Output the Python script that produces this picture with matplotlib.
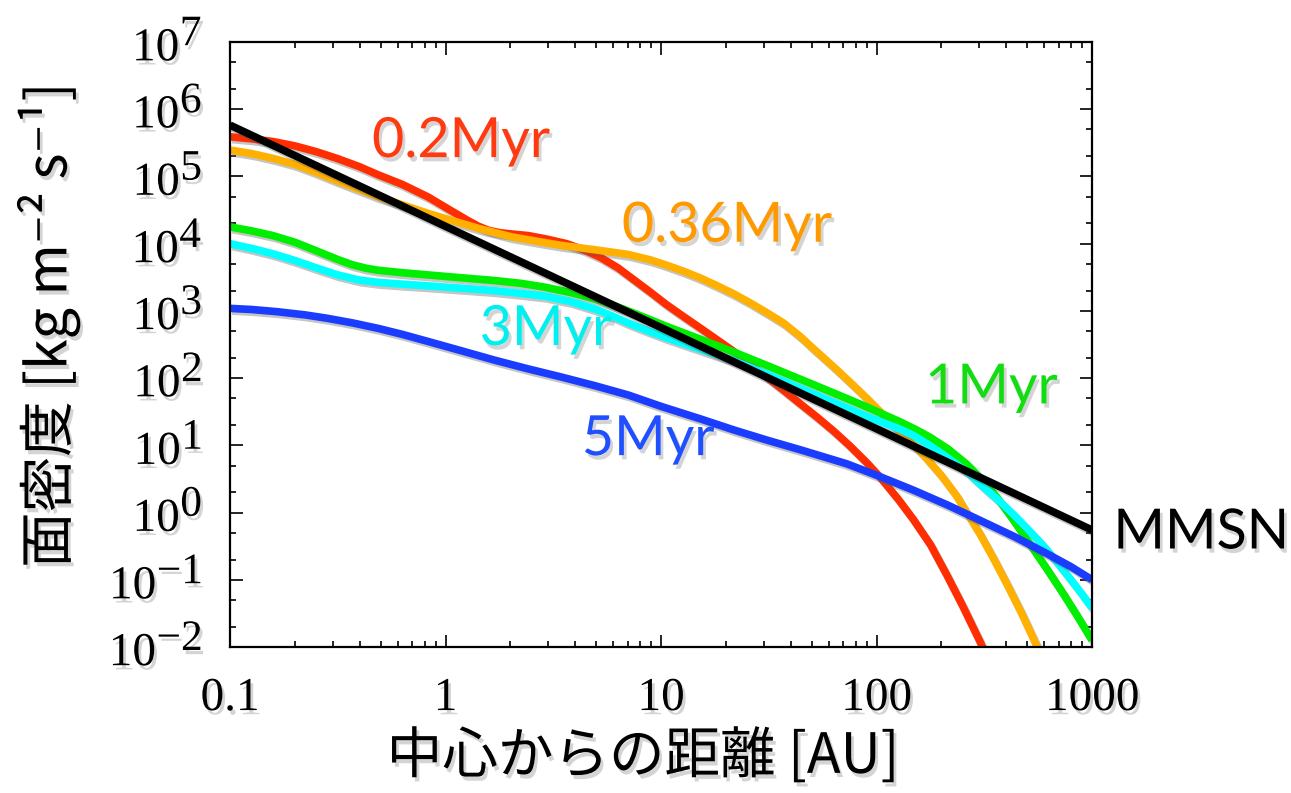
import matplotlib
matplotlib.use('Agg')
import matplotlib.pyplot as plt
import matplotlib.patheffects as pe
from matplotlib.ticker import LogLocator, FixedLocator, FixedFormatter, NullFormatter
try:
    import matplotlib._mathtext as _mt
    _mt.SHRINK_FACTOR = 0.92
except Exception:
    pass

# ---------------- data ----------------
red_x = [0.1, 0.126, 0.158, 0.2, 0.251, 0.316, 0.398, 0.486, 0.631, 0.83,
         1.05, 1.26, 1.42, 1.585, 1.78, 2.0, 2.42, 2.95, 3.65, 4.37,
         5.21, 6.31, 7.43, 8.91, 10.6, 12.6, 15.2, 18.2, 21.7, 25.9,
         30.9, 37.0, 44.2, 52.5, 63.1, 75.3, 90.2, 104, 126, 148,
         178, 212, 251, 302, 331]
red_y = [3.89e5, 3.63e5, 3.31e5, 2.85e5, 2.34e5, 1.84e5, 1.40e5, 1.06e5, 7.6e4, 4.95e4,
         3.16e4, 2.24e4, 1.82e4, 1.58e4, 1.46e4, 1.40e4, 1.32e4, 1.17e4, 1.0e4, 8.13e3,
         6.31e3, 4.37e3, 2.95e3, 1.91e3, 1.24e3, 841, 556, 372, 251, 162,
         104, 66.1, 41.7, 26.9, 16.4, 9.77, 5.50, 3.35, 1.58, 0.794,
         0.331, 0.117, 0.0407, 0.0120, 0.0063]

orange_x = [0.1, 0.126, 0.158, 0.2, 0.251, 0.316, 0.486, 0.83, 1.42, 2.01,
            2.82, 3.44, 4.92, 7.03, 8.91, 10.6, 12.6, 15.2, 18.2, 21.7,
            25.9, 30.9, 37.0, 44.2, 52.5, 63.1, 75.3, 90.2, 104, 128.5,
            165, 200, 235, 262, 302, 347, 402, 468, 553, 589]
orange_y = [2.47e5, 2.19e5, 1.86e5, 1.51e5, 1.15e5, 8.51e4, 4.99e4, 2.82e4, 1.69e4, 1.27e4,
            1.05e4, 9.44e3, 8.13e3, 6.92e3, 5.75e3, 4.79e3, 3.94e3, 3.09e3, 2.37e3, 1.80e3,
            1.32e3, 944, 661, 417, 251, 148, 87.1, 50.1, 31.6, 15.8,
            7.24, 3.55, 1.78, 1.0, 0.479, 0.214, 0.0871, 0.0331, 0.0105, 0.0068]

green_x = [0.1, 0.126, 0.158, 0.2, 0.251, 0.316, 0.366, 0.427, 0.486, 0.631,
           0.83, 1.2, 1.69, 2.24, 2.88, 3.8, 4.92, 5.89, 7.03, 8.91,
           10.6, 15.2, 21.7, 30.9, 44.2, 63.1, 90.2, 128.5, 151, 177,
           214, 262, 309, 361, 427, 515, 617, 736, 851, 1000]
green_y = [1.78e4, 1.55e4, 1.32e4, 1.05e4, 7.85e3, 5.82e3, 4.90e3, 4.32e3, 4.03e3, 3.70e3,
           3.43e3, 3.10e3, 2.83e3, 2.57e3, 2.26e3, 1.88e3, 1.51e3, 1.24e3, 1.0e3, 741,
           589, 380, 245, 155, 96.6, 60.3, 37.2, 22.4, 17.4, 13.2,
           8.91, 5.25, 3.09, 1.70, 0.813, 0.339, 0.145, 0.0617, 0.0295, 0.0126]

cyan_x = [0.1, 0.126, 0.158, 0.2, 0.251, 0.316, 0.398, 0.486, 0.631, 0.83,
          1.2, 1.69, 2.24, 2.88, 3.8, 4.92, 5.89, 7.03, 8.91, 10.6,
          15.2, 21.7, 30.9, 44.2, 63.1, 90.2, 128.5, 148, 178, 214,
          262, 316, 372, 432, 501, 589, 685, 794, 891, 1000]
cyan_y = [1.0e4, 8.51e3, 7.08e3, 5.62e3, 4.37e3, 3.43e3, 2.88e3, 2.66e3, 2.50e3, 2.36e3,
          2.17e3, 2.0e3, 1.82e3, 1.66e3, 1.38e3, 1.07e3, 851, 661, 490, 398,
          269, 182, 115, 70.8, 43.7, 26.9, 17.4, 14.1, 9.77, 6.46,
          4.07, 2.34, 1.48, 0.933, 0.575, 0.331, 0.186, 0.102, 0.0631, 0.038]

blue_x = [0.1, 0.126, 0.167, 0.224, 0.285, 0.372, 0.486, 0.631, 0.83, 1.175,
          1.69, 2.4, 3.44, 4.9, 7.03, 10, 15.2, 21.7, 30.9, 44.2,
          72.8, 100, 148, 214, 302, 437, 617, 794, 1000]
blue_y = [1.09e3, 1.05e3, 970, 871, 773, 661, 550, 447, 351, 257,
          185, 138, 104, 77.6, 56.2, 38.0, 24.8, 17.0, 12.0, 8.61,
          5.31, 3.59, 2.16, 1.29, 0.767, 0.437, 0.245, 0.158, 0.1]

mmsn_x = [0.1, 1000]
mmsn_y = [5.8e5, 0.55]

labels = ['0.2Myr', '0.36Myr', '1Myr', '3Myr', '5Myr', 'MMSN']

x_ticks = [0.1, 1, 10, 100, 1000]
x_tick_labels = ['0.1', '1', '10', '100', '1000']
y_ticks = [1e-2, 1e-1, 1e0, 1e1, 1e2, 1e3, 1e4, 1e5, 1e6, 1e7]
y_tick_labels = [r'$\mathregular{10^{%d}}$' % e for e in [-2, -1, 0, 1, 2, 3, 4, 5, 6, 7]]

xlabel = '中心からの距離 [AU]'
ylabel = '面密度 [kg m⁻² s⁻¹]'

# ---------------- styling ----------------
line_colors = ['#ff2d00', '#ffb000', '#00ee00', '#00ffff', '#1a3cff', '#000000']
label_colors = ['#ff3a10', '#ff9900', '#11dd11', '#00f0f0', '#1f4fff', '#000000']
label_pos_x = [0.456, 6.58, 168, 1.44, 4.29, 1256]
label_pos_y = [1.94e5, 1.07e4, 42, 310, 7.15, 0.292]

line_fx = [pe.SimpleLineShadow(offset=(1.5, -2), shadow_color='0.35', alpha=0.35), pe.Normal()]
text_fx = [pe.withSimplePatchShadow(offset=(2, -3), shadow_rgbFace='0.45', alpha=0.3)]

fig = plt.figure(figsize=(12.91, 7.93), dpi=100)
ax = fig.add_axes([0.1782, 0.1841, 0.6677, 0.7629])
ax.set_xscale('log')
ax.set_yscale('log')

series = [(red_x, red_y), (orange_x, orange_y), (green_x, green_y),
          (cyan_x, cyan_y), (blue_x, blue_y), (mmsn_x, mmsn_y)]
for (xs, ys), c in zip(series, line_colors):
    ax.plot(xs, ys, color=c, lw=5.5, solid_capstyle='butt', solid_joinstyle='round',
            path_effects=line_fx)

ax.set_xlim(0.1, 1000)
ax.set_ylim(1e-2, 1e7)

for txt, tx, ty, c in zip(labels, label_pos_x, label_pos_y, label_colors):
    ax.text(tx, ty, txt, color=c, fontsize=40, family=['Lato', 'DejaVu Sans'],
            ha='left', va='baseline', path_effects=text_fx, clip_on=False)

ax.xaxis.set_major_locator(FixedLocator(x_ticks))
ax.xaxis.set_major_formatter(FixedFormatter(x_tick_labels))
ax.xaxis.set_minor_locator(LogLocator(base=10, subs=range(2, 10), numticks=50))
ax.xaxis.set_minor_formatter(NullFormatter())
ax.yaxis.set_major_locator(FixedLocator(y_ticks))
ax.yaxis.set_major_formatter(FixedFormatter(y_tick_labels))
ax.yaxis.set_minor_locator(LogLocator(base=10, subs=(2, 5), numticks=50))
ax.yaxis.set_minor_formatter(NullFormatter())

ax.tick_params(which='both', direction='in', top=True, right=True, width=1.2,
               labelsize=34, labelfontfamily='Liberation Serif')
ax.tick_params(which='major', length=9)
ax.tick_params(which='minor', length=4.5)
ax.tick_params(axis='y', pad=20)
ax.tick_params(axis='x', pad=22)
for sp in ax.spines.values():
    sp.set_linewidth(1.6)

for lbl in ax.get_xticklabels() + ax.get_yticklabels():
    lbl.set_path_effects(text_fx)

ax.set_xlabel(xlabel, fontsize=40, family=['Noto Sans CJK JP', 'DejaVu Sans'], va='center')
ax.set_ylabel(ylabel, fontsize=40, family=['Noto Sans CJK JP', 'DejaVu Sans'], va='center')
ax.xaxis.set_label_coords(0.479, -0.182)
ax.yaxis.set_label_coords(-0.211, 0.532)
ax.xaxis.label.set_path_effects(text_fx)
ax.yaxis.label.set_path_effects(text_fx)

fig.savefig('out.png', dpi=100)
